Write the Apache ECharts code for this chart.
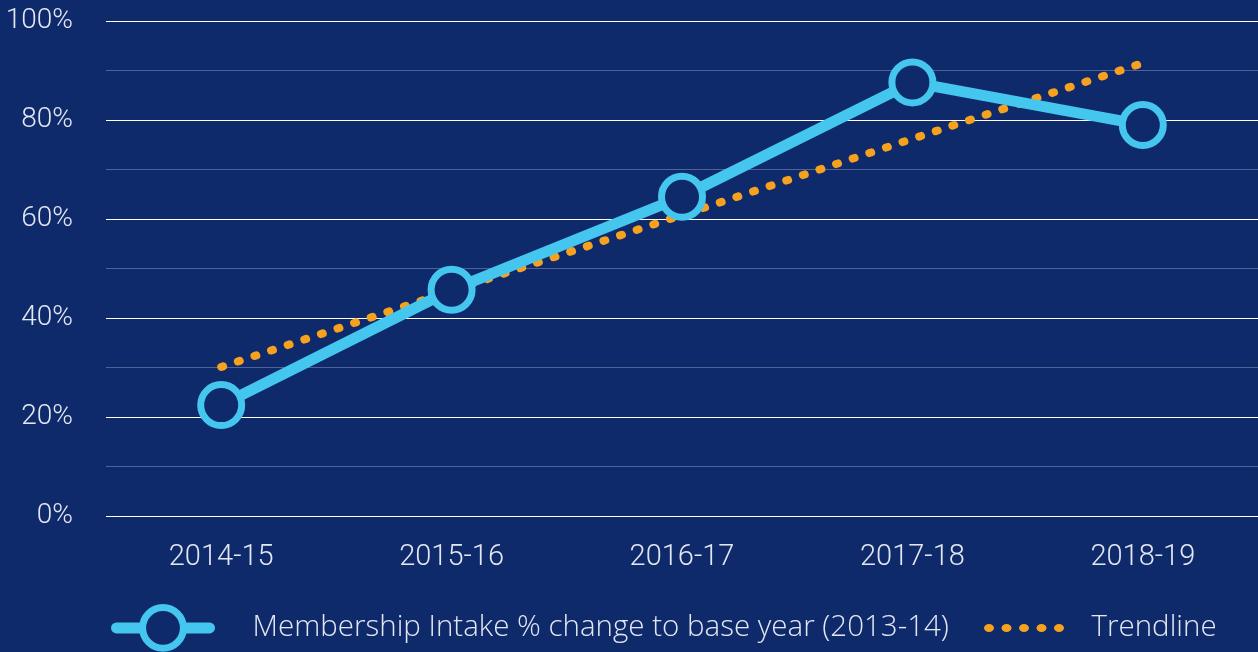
<!DOCTYPE html>
<html>
<head>
<meta charset="utf-8">
<script src="https://cdn.jsdelivr.net/npm/echarts@6/dist/echarts.min.js"></script>
<style>
  html, body { margin: 0; padding: 0; background: #0e2a6b; }
  #main { width: 1258px; height: 652px; }
</style>
</head>
<body>
<div id="main"></div>
<script>
// data
var years = ['2014-15', '2015-16', '2016-17', '2017-18', '2018-19'];
var intakeChange = [22.4, 45.7, 64.5, 87.6, 79.0];
var trendline = [30.1, 45.5, 60.8, 76.2, 91.5];
var yTicks = [0, 20, 40, 60, 80, 100];

var seriesName = 'Membership Intake % change to base year (2013-14)';
var trendName = 'Trendline';

var navy = '#0e2a6b';
var blue = '#45c6ee';
var orange = '#f6a21e';
var textCol = '#e3e7f1';
var font = 'Roboto';
var legendFont = 'Open Sans';

// five little dots for the trendline legend
var dotPath = 'path://';
for (var i = 0; i < 5; i++) {
  var x = i * 17.5;
  dotPath += 'M' + x + ' 4A5 4 0 1 0 ' + (x + 10) + ' 4A5 4 0 1 0 ' + x + ' 4Z';
}

var myChart = echarts.init(document.getElementById('main'));
myChart.setOption({
  backgroundColor: navy,
  animation: false,
  grid: { left: 106, right: -4, top: 21, bottom: 136 },
  xAxis: {
    type: 'category',
    data: years,
    axisLine: { show: false },
    axisTick: { show: false },
    axisLabel: { color: textCol, fontFamily: font, fontWeight: 300, fontSize: 29, margin: 27 }
  },
  yAxis: {
    type: 'value',
    min: 0,
    max: 100,
    interval: 10,
    axisLine: { show: false },
    axisTick: { show: false },
    axisLabel: {
      color: textCol, fontFamily: font, fontWeight: 300, fontSize: 28, margin: 33,
      formatter: function (v) { return yTicks.indexOf(v) > -1 ? v + '%' : ''; }
    },
    splitLine: { lineStyle: { color: ['#ffffff', '#4f6399'], width: 1 } }
  },
  legend: [
    {
      data: [seriesName],
      left: 111,
      top: 604,
      padding: 0,
      itemWidth: 93,
      itemHeight: 51,
      lineStyle: { width: 11, cap: 'round' },
      itemStyle: { borderWidth: 7 },
      textStyle: { color: textCol, fontFamily: legendFont, fontWeight: 300, fontSize: 29.5, padding: [0, 0, 0, 38] }
    },
    {
      data: [{ name: trendName, icon: dotPath }],
      left: 984,
      top: 613,
      padding: 0,
      itemWidth: 81,
      itemHeight: 8,
      itemStyle: { color: orange },
      textStyle: { color: textCol, fontFamily: legendFont, fontWeight: 300, fontSize: 29.5, padding: [0, 0, 0, 22] }
    }
  ],
  series: [
    {
      name: trendName,
      type: 'line',
      data: trendline,
      symbol: 'none',
      color: orange,
      lineStyle: { color: orange, width: 8, type: [2, 15.5], cap: 'round' },
      z: 2
    },
    {
      name: seriesName,
      type: 'line',
      data: intakeChange,
      symbol: 'circle',
      symbolSize: 41,
      lineStyle: { color: blue, width: 11 },
      itemStyle: { color: navy, borderColor: blue, borderWidth: 7 },
      z: 3
    }
  ]
});
</script>
</body>
</html>
